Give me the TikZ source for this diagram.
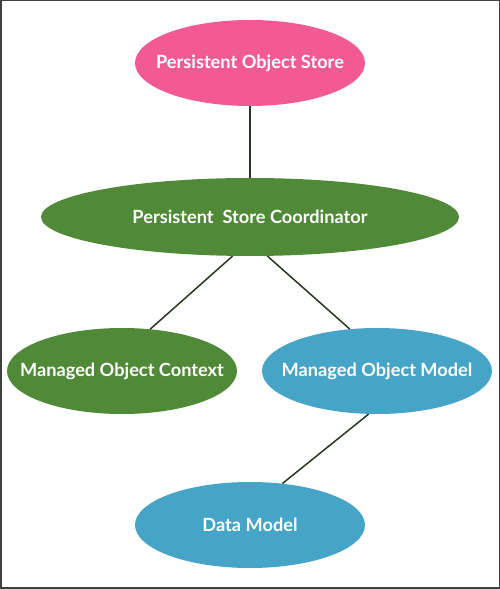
\documentclass[tikz,border=0pt]{standalone}
\usepackage{fontspec}
\setmainfont{Lato}
\usetikzlibrary{shapes.geometric}
\definecolor{pinkc}{RGB}{241,90,147}
\definecolor{greenc}{RGB}{80,137,55}
\definecolor{bluec}{RGB}{70,164,198}
\definecolor{linec}{RGB}{40,56,32}
\definecolor{framec}{RGB}{64,64,64}
\newcommand{\ctext}[1]{\makebox[0pt][c]{#1}}
\tikzset{
  oval/.style={ellipse, inner sep=0pt, text=white, font=\fontsize{18.2}{21}\selectfont\bfseries, minimum width=230pt, minimum height=86pt},
  conn/.style={draw=linec, line width=1.5pt}
}
\begin{document}
\begin{tikzpicture}[x=1pt,y=1pt]
\useasboundingbox (0,0) rectangle (500,589);
\draw[framec, line width=1.5pt] (0.75,0.75) rectangle (499.25,588.25);
\node[oval, fill=pinkc] (pos) at (250,526) {\ctext{Persistent Object Store}};
\node[oval, fill=greenc, minimum width=418pt, minimum height=78pt] (psc) at (250,372) {\ctext{Persistent\ \ Store Coordinator}};
\node[oval, fill=greenc] (moc) at (122,218) {\ctext{Managed Object Context}};
\node[oval, fill=bluec] (mom) at (377,218) {\ctext{Managed Object Model}};
\node[oval, fill=bluec] (dm) at (250,64) {\ctext{Data Model}};
\draw[conn] (pos.south) -- (psc.north);
\draw[conn] (psc.246) -- (moc.56);
\draw[conn] (psc.294) -- (mom.123);
\draw[conn] (mom.259.5) -- (dm.52);
\end{tikzpicture}
\end{document}
